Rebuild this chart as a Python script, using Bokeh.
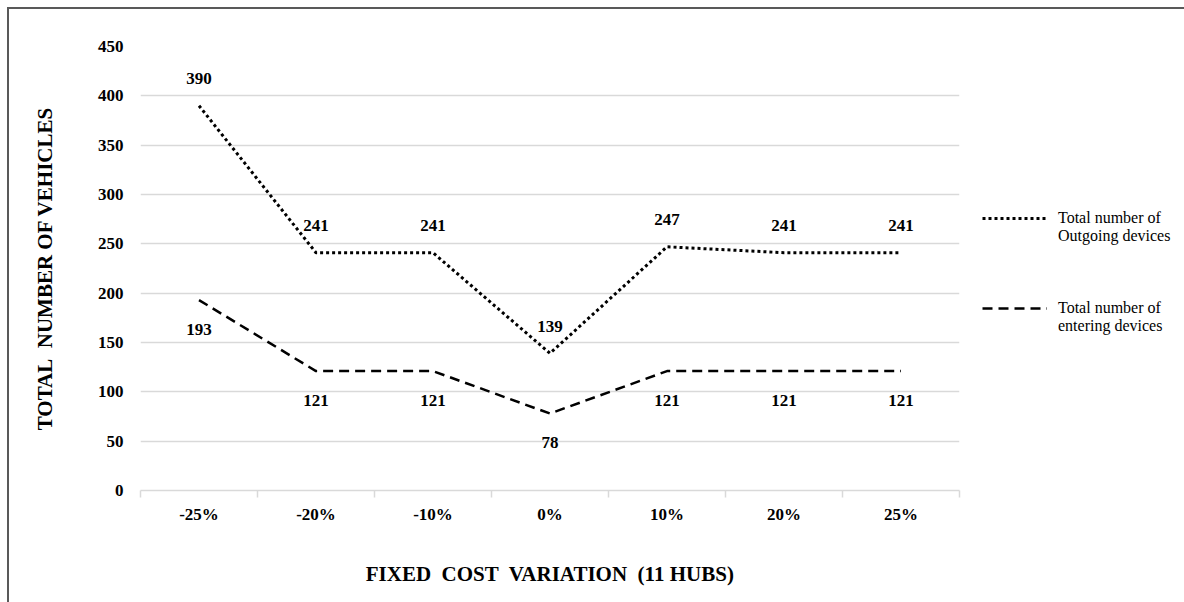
from bokeh.plotting import figure
from bokeh.models import Range1d, FixedTicker, Legend, LegendItem
from bokeh.core.properties import value
from bokeh.embed import file_html
from bokeh.resources import INLINE

# Fixed cost variation scenarios (11 hubs)
categories = ["-25%", "-20%", "-10%", "0%", "10%", "20%", "25%"]
outgoing = [390, 241, 241, 139, 247, 241, 241]
entering = [193, 121, 121, 78, 121, 121, 121]
y_ticks = [0, 50, 100, 150, 200, 250, 300, 350, 400, 450]

# leading blank line keeps the key sample level with the first text line
outgoing_label = "\nTotal number of\nOutgoing devices"
entering_label = "\nTotal number of\nentering devices"
x_title = "FIXED\u00a0 COST\u00a0 VARIATION\u00a0 (11 HUBS)"
y_title = "TOTAL\u00a0 NUMBER OF VEHICLES"

FONT = "Liberation Serif"
GRID = "#d9d9d9"
INK = "#000000"

# category centres on a numeric scale, boundaries at integers
xs = [i + 0.5 for i in range(len(categories))]
edges = list(range(len(categories) + 1))

p = figure(
    frame_width=819, frame_height=444,
    x_range=Range1d(0, len(categories)), y_range=Range1d(0, 450),
    output_backend="svg", toolbar_location=None,
    min_border_left=131, min_border_right=225,
    min_border_top=37, min_border_bottom=112,
)
p.styles = {
    "margin-left": "7px", "margin-top": "7px",
    "border-left": "2px solid #595959", "border-top": "2px solid #595959",
}
p.outline_line_color = None
p.background_fill_color = "white"
p.border_fill_color = "white"

# grid
p.xgrid.grid_line_color = None
p.ygrid.ticker = FixedTicker(ticks=y_ticks)
p.ygrid.grid_line_color = GRID
p.ygrid.grid_line_width = 1.5

# x axis: labels at category centres, small ticks at category edges
xa = p.xaxis[0]
xa.ticker = FixedTicker(ticks=xs, minor_ticks=edges)
xa.major_label_overrides = {x: c for x, c in zip(xs, categories)}
xa.major_tick_in = 0
xa.major_tick_out = 0
xa.major_tick_line_color = None
xa.minor_tick_in = 0
xa.minor_tick_out = 7
xa.minor_tick_line_color = GRID
xa.minor_tick_line_width = 1.5
xa.axis_line_color = GRID
xa.axis_line_width = 1.5
xa.major_label_standoff = 7
xa.major_label_text_font = FONT
xa.major_label_text_font_style = "bold"
xa.major_label_text_font_size = "17px"
xa.major_label_text_color = INK
xa.axis_label = x_title
xa.axis_label_text_font = FONT
xa.axis_label_text_font_style = "bold"
xa.axis_label_text_font_size = "21px"
xa.axis_label_text_color = INK
xa.axis_label_standoff = 35

# y axis
ya = p.yaxis[0]
ya.ticker = FixedTicker(ticks=y_ticks)
ya.axis_line_color = None
ya.major_tick_line_color = None
ya.minor_tick_line_color = None
ya.major_tick_out = 0
ya.major_tick_in = 0
ya.major_label_standoff = 17
ya.major_label_text_font = FONT
ya.major_label_text_font_style = "bold"
ya.major_label_text_font_size = "17px"
ya.major_label_text_color = INK
ya.axis_label = y_title
ya.axis_label_text_font = FONT
ya.axis_label_text_font_style = "bold"
ya.axis_label_text_font_size = "21px"
ya.axis_label_text_color = INK
ya.axis_label_standoff = 38

# series
r_out = p.line(xs, outgoing, line_color=INK, line_width=3,
               line_dash="3 3", line_cap="butt")
r_in = p.line(xs, entering, line_color=INK, line_width=2.5,
              line_dash="10 6")

# value labels: outgoing above, entering below
p.text(xs, outgoing, text=[str(v) for v in outgoing],
       text_font=value(FONT), text_font_style="bold", text_font_size="17px",
       text_color=INK, text_align="center", text_baseline="middle",
       y_offset=-27)
p.text(xs, entering, text=[str(v) for v in entering],
       text_font=value(FONT), text_font_style="bold", text_font_size="17px",
       text_color=INK, text_align="center", text_baseline="middle",
       y_offset=29)

legend = Legend(
    items=[LegendItem(label=outgoing_label, renderers=[r_out]),
           LegendItem(label=entering_label, renderers=[r_in])],
    location=(23, 155), orientation="vertical",
)
legend.border_line_color = None
legend.background_fill_alpha = 0
legend.padding = 0
legend.margin = 0
legend.spacing = 36
legend.glyph_width = 65
legend.glyph_height = 12
legend.label_standoff = 11
legend.label_text_font = FONT
legend.label_text_font_size = "16px"
legend.label_text_color = INK
legend.label_text_line_height = 1.2
p.add_layout(legend, "right")

open("out.html", "w").write(file_html(p, INLINE))
